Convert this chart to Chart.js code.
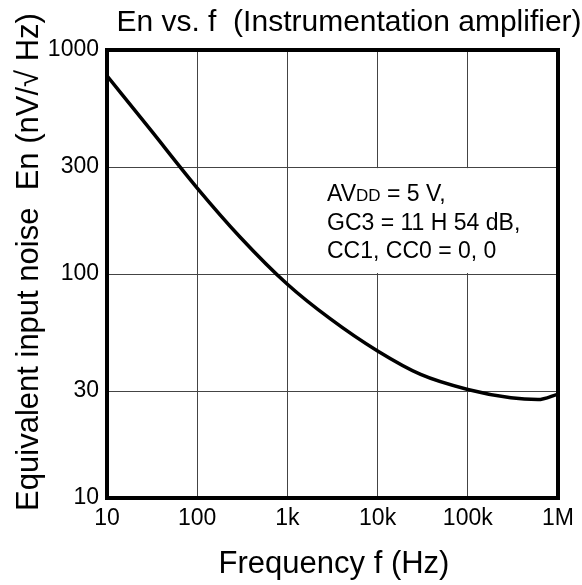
<!DOCTYPE html>
<html>
<head>
<meta charset="utf-8">
<script src="https://cdn.jsdelivr.net/npm/chart.js@4.4.1/dist/chart.umd.min.js"></script>
<style>
  html, body { margin: 0; padding: 0; background: #fff; }
  #wrap { width: 582px; height: 585px; }
</style>
</head>
<body>
<div id="wrap"><canvas id="noiseChart" width="582" height="585"></canvas></div>
<script>
// values (Hz, nV/rtHz)
const freqHz = [10, 30, 100, 300, 1000, 3000, 10000, 30000, 100000, 300000, 600000, 1000000];
const noiseEn = [767, 443, 242, 146, 90, 63, 45.3, 35.6, 30.5, 28.0, 27.5, 29.1];

const xTickValues = [10, 100, 1000, 10000, 100000, 1000000];
const xTickLabels = ['10', '100', '1k', '10k', '100k', '1M'];
const yTickValues = [10, 30, 100, 300, 1000];
const yTickLabels = ['10', '30', '100', '300', '1000'];

const titleText = 'En vs. f  (Instrumentation amplifier)';
const xTitleText = 'Frequency f (Hz)';
const yTitleText = 'Equivalent input noise  En (nV/\u221A Hz)';
const noteLines = ['GC3 = 11 H 54 dB,', 'CC1, CC0 = 0, 0'];

const FONT = '"Liberation Sans", Arial, Helvetica, sans-serif';

const points = freqHz.map((f, i) => ({ x: f, y: noiseEn[i] }));

// white patch behind the condition text, frame and all free text
const decorPlugin = {
  id: 'decor',
  beforeDatasetsDraw(chart) {
    const { ctx, scales: { x, y }, chartArea } = chart;
    const x0 = x.getPixelForValue(1000) + 1;
    const y0 = y.getPixelForValue(300) + 1;
    const y1 = y.getPixelForValue(100) - 1;
    ctx.save();
    ctx.fillStyle = '#fff';
    ctx.fillRect(x0, y0, chartArea.right - x0, y1 - y0);
    ctx.restore();
  },
  afterDatasetsDraw(chart) {
    const { ctx, chartArea: a } = chart;
    ctx.save();
    ctx.strokeStyle = '#000';
    ctx.lineWidth = 4;
    ctx.strokeRect(a.left, a.top, a.right - a.left, a.bottom - a.top);
    ctx.restore();
  },
  afterDraw(chart) {
    const { ctx } = chart;
    ctx.save();
    ctx.fillStyle = '#000';
    ctx.textBaseline = 'alphabetic';

    // title
    ctx.font = '30px ' + FONT;
    ctx.textAlign = 'center';
    ctx.fillText(titleText, 349, 31);

    // x axis title
    ctx.font = '31px ' + FONT;
    ctx.fillText(xTitleText, 334, 573);

    // y axis title
    ctx.save();
    ctx.translate(38, 262);
    ctx.rotate(-Math.PI / 2);
    ctx.font = '31px ' + FONT;
    ctx.fillText(yTitleText, 0, 0);
    ctx.restore();

    // conditions
    ctx.textAlign = 'left';
    const nx = 327;
    ctx.font = '23px ' + FONT;
    ctx.fillText('AV', nx, 201);
    const w = ctx.measureText('AV').width;
    ctx.font = '17px ' + FONT;
    ctx.fillText('DD', nx + w, 201);
    const w2 = ctx.measureText('DD').width;
    ctx.font = '23px ' + FONT;
    ctx.fillText(' = 5 V,', nx + w + w2, 201);
    noteLines.forEach((t, i) => ctx.fillText(t, nx, 230 + i * 28));
    ctx.restore();
  }
};

const ctx = document.getElementById('noiseChart').getContext('2d');

const noiseChart = new Chart(ctx, {
  type: 'line',
  data: {
    datasets: [{
      data: points,
      borderColor: '#000',
      borderWidth: 3.5,
      pointRadius: 0,
      fill: false,
      cubicInterpolationMode: 'monotone'
    }]
  },
  options: {
    responsive: false,
    devicePixelRatio: 1,
    animation: false,
    layout: { padding: { top: 50, right: 24, left: 0, bottom: 0 } },
    plugins: {
      legend: { display: false },
      tooltip: { enabled: false },
      title: { display: false }
    },
    scales: {
      x: {
        type: 'logarithmic',
        min: 10,
        max: 1000000,
        afterBuildTicks: (scale) => { scale.ticks = xTickValues.map(v => ({ value: v })); },
        afterFit: (scale) => { scale.height = 87; },
        grid: { color: '#444', lineWidth: 1, drawTicks: false },
        border: { display: false },
        ticks: {
          autoSkip: false,
          maxRotation: 0,
          padding: 7,
          color: '#000',
          font: { family: FONT, size: 23 },
          callback: (v) => xTickLabels[xTickValues.indexOf(v)]
        }
      },
      y: {
        type: 'logarithmic',
        min: 10,
        max: 1000,
        afterBuildTicks: (scale) => { scale.ticks = yTickValues.map(v => ({ value: v })); },
        afterFit: (scale) => { scale.width = 107; },
        grid: { color: '#444', lineWidth: 1, drawTicks: false },
        border: { display: false },
        ticks: {
          autoSkip: false,
          padding: 8,
          color: '#000',
          font: { family: FONT, size: 23 },
          callback: (v) => yTickLabels[yTickValues.indexOf(v)]
        }
      }
    }
  },
  plugins: [decorPlugin]
});
</script>
</body>
</html>
